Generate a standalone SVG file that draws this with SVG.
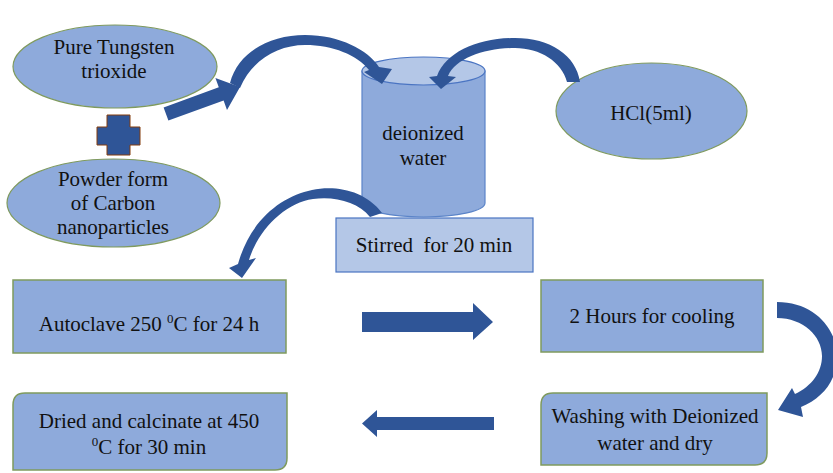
<svg xmlns="http://www.w3.org/2000/svg" width="833" height="473" viewBox="0 0 833 473">
<style>
.lbl{font-size:21px;fill:#111;text-anchor:middle}
.ell{fill:#8eaadb;stroke:#7f9a5e;stroke-width:1.2}
.box{fill:#8eaadb;stroke:#7f9a5e;stroke-width:1.5}
.lt{fill:#b4c7e7;stroke:#4a74c2;stroke-width:1.2}
.cyl{fill:#8eaadb;stroke:#5b84c8;stroke-width:1.2}
.arr{fill:#2f5597;stroke:none}
.sup{font-size:13px}
</style>
<rect width="833" height="473" fill="#ffffff"/>
<g font-family="'Liberation Serif', 'Times New Roman', Times, 'DejaVu Serif', serif">
<g id="tungsten">
<ellipse class="ell" cx="115" cy="66.5" rx="102" ry="41.5"/>
<text class="lbl" x="114" y="54">Pure Tungsten</text>
<text class="lbl" x="114" y="78">trioxide</text>
</g>
<g id="plus">
<polygon points="107,115 130,115 130,127 140,127 140,145 130,145 130,155 107,155 107,145 97,145 97,127 107,127" fill="#2f5597" stroke="#843c0c" stroke-width="1"/>
</g>
<g id="carbon">
<ellipse class="ell" cx="113.5" cy="203" rx="106.5" ry="44"/>
<text class="lbl" x="113" y="186">Powder form</text>
<text class="lbl" x="113" y="210">of Carbon</text>
<text class="lbl" x="113" y="234">nanoparticles</text>
</g>
<g id="water">
<path class="cyl" d="M362,71 L362,203 A61.5,14 0 0 0 485,203 L485,71 Z"/>
<ellipse class="lt" cx="423.5" cy="71" rx="61.5" ry="14"/>
<text class="lbl" x="423" y="140">deionized</text>
<text class="lbl" x="423" y="165">water</text>
</g>
<g id="hcl">
<ellipse class="ell" cx="651.5" cy="111" rx="95.5" ry="48"/>
<text class="lbl" x="651" y="120">HCl(5ml)</text>
</g>
<g id="stirred">
<rect class="lt" x="336" y="218" width="197" height="54"/>
<text class="lbl" x="434" y="252" xml:space="preserve">Stirred  for 20 min</text>
</g>
<g id="autoclave">
<rect class="box" x="13" y="280" width="273" height="73"/>
<text class="lbl" x="149" y="331">Autoclave 250 <tspan class="sup" dy="-8">0</tspan><tspan dy="8">C for 24 h</tspan></text>
</g>
<g id="cooling">
<rect class="box" x="541" y="280" width="222" height="72"/>
<text class="lbl" x="652" y="323">2 Hours for cooling</text>
</g>
<g id="washing">
<path class="box" d="M553,393 L767,393 L767,453 Q767,465 755,465 L541,465 L541,405 Q541,393 553,393 Z"/>
<text class="lbl" x="655" y="423">Washing with Deionized</text>
<text class="lbl" x="655" y="450">water and dry</text>
</g>
<g id="dried">
<path class="box" d="M25,393 L287,393 L287,458 Q287,470 275,470 L13,470 L13,405 Q13,393 25,393 Z"/>
<text class="lbl" x="149" y="428">Dried and calcinate at 450</text>
<text class="lbl" x="149" y="454"><tspan class="sup" dy="-8">0</tspan><tspan dy="8">C for 30 min</tspan></text>
</g>
</g>
<g id="connectors">
<polygon class="arr" points="168.4,120.6 223.6,100.5 227,109.9 240,87 215.4,77.9 218.8,87.3 163.6,107.4"/>
<path class="arr" d="M230,83 C238,52 270,35 305,35 C340,35 368,50 379,67 L392,69 L382,84 L364,72 L369,70 C357,55 333,45 305,45 C278,45 252,60 240,88 Z"/>
<path class="arr" d="M580,82 C576,55 550,38 515,38 C478,38 446,52 437,76 L429,77 L441,89 L456,77 L448,76 C456,58 485,48 515,48 C540,48 562,62 567,82 Z"/>
<path class="arr" d="M382,213 C365,190 335,185 312,190 C282,196 250,220 238,264 L229,268 L242,278 L256,258 L249,260 C258,230 285,203 313,199 C335,196 358,202 370,217 Z"/>
<path class="arr" d="M777,302 C815,302 838,330 837,358 C836,382 822,398 801,407 L803,417 L778,410 L792,388 L795,394 C812,386 822,372 822,356 C822,336 803,318 777,318 Z"/>
<polygon class="arr" points="362,312 473,312 473,303 493,322 473,340 473,332 362,332"/>
<polygon class="arr" points="494,417 377,417 377,410 362,423.5 377,437 377,430 494,430"/>
</g>
</svg>
